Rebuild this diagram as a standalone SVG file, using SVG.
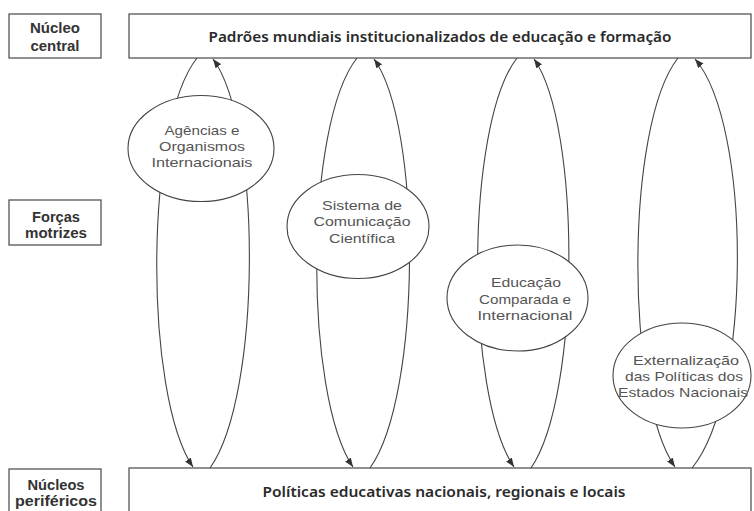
<svg xmlns="http://www.w3.org/2000/svg" width="754" height="511" viewBox="0 0 754 511">
<style>
.box{fill:#fff;stroke:#555;stroke-width:1.3}
.lbl{font-family:"Liberation Sans",Arial,sans-serif;font-weight:bold;font-size:14px;fill:#333;text-anchor:middle}
.ttl{font-family:"Noto Sans","Liberation Sans",sans-serif;font-weight:600;font-size:15px;fill:#2a2a2a;text-anchor:middle}
.ell{fill:#fff;stroke:#444;stroke-width:1.1}
.et{font-family:"Liberation Sans",Arial,sans-serif;font-size:13px;fill:#555;text-anchor:middle}
.ln{fill:none;stroke:#444;stroke-width:1.1}
</style>
<defs>
<marker id="ah" markerUnits="userSpaceOnUse" markerWidth="9" markerHeight="7" refX="9" refY="3.5" orient="auto">
<path d="M0,0 L9,3.5 L0,7 z" fill="#333"/>
</marker>
</defs>
<rect width="754" height="511" fill="#fff"/>

<g id="label-nucleo-central">
<rect class="box" x="9" y="14" width="92" height="44"/>
<text class="lbl" x="55" y="33" textLength="50" lengthAdjust="spacingAndGlyphs">Núcleo</text>
<text class="lbl" x="55" y="51" textLength="49" lengthAdjust="spacingAndGlyphs">central</text>
</g>
<g id="node-padroes">
<rect class="box" x="129" y="14" width="622" height="44"/>
<text class="ttl" x="440" y="42" textLength="463" lengthAdjust="spacingAndGlyphs">Padrões mundiais institucionalizados de educação e formação</text>
</g>
<g id="label-forcas-motrizes">
<rect class="box" x="9" y="200" width="92" height="45"/>
<text class="lbl" x="56" y="222" textLength="48" lengthAdjust="spacingAndGlyphs">Forças</text>
<text class="lbl" x="56" y="238" textLength="62" lengthAdjust="spacingAndGlyphs">motrizes</text>
</g>
<g id="label-nucleos-perifericos">
<rect class="box" x="9" y="469" width="92" height="50"/>
<text class="lbl" x="56" y="490" textLength="57" lengthAdjust="spacingAndGlyphs">Núcleos</text>
<text class="lbl" x="56" y="506" textLength="82" lengthAdjust="spacingAndGlyphs">periféricos</text>
</g>
<g id="node-politicas">
<rect class="box" x="129" y="468" width="622" height="50"/>
<text class="ttl" x="444" y="497" textLength="363" lengthAdjust="spacingAndGlyphs">Políticas educativas nacionais, regionais e locais</text>
</g>

<g id="connectors">
<path class="ln" d="M197,58 C144,125 144,395 193,467" marker-end="url(#ah)"/>
<path class="ln" d="M210,468 C262,395 262,125 213,59" marker-end="url(#ah)"/>
<path class="ln" d="M357,58 C304,125 304,395 353,467" marker-end="url(#ah)"/>
<path class="ln" d="M370,468 C422,395 422,125 374,59" marker-end="url(#ah)"/>
<path class="ln" d="M517,58 C465,125 465,395 514,467" marker-end="url(#ah)"/>
<path class="ln" d="M531,468 C581,395 581,125 534,59" marker-end="url(#ah)"/>
<path class="ln" d="M678,58 C625,125 625,395 675,467" marker-end="url(#ah)"/>
<path class="ln" d="M692,468 C752,395 752,125 695,59" marker-end="url(#ah)"/>
</g>

<g id="node-agencias">
<ellipse class="ell" cx="201" cy="148.5" rx="73" ry="53"/>
<text class="et" x="202" y="135" textLength="75" lengthAdjust="spacingAndGlyphs">Agências e</text>
<text class="et" x="202" y="151" textLength="86" lengthAdjust="spacingAndGlyphs">Organismos</text>
<text class="et" x="202" y="167" textLength="101" lengthAdjust="spacingAndGlyphs">Internacionais</text>
</g>
<g id="node-sistema">
<ellipse class="ell" cx="358" cy="226.5" rx="71" ry="52"/>
<text class="et" x="362" y="210" textLength="80" lengthAdjust="spacingAndGlyphs">Sistema de</text>
<text class="et" x="362" y="226" textLength="97" lengthAdjust="spacingAndGlyphs">Comunicação</text>
<text class="et" x="362" y="243" textLength="66" lengthAdjust="spacingAndGlyphs">Científica</text>
</g>
<g id="node-educacao">
<ellipse class="ell" cx="517.5" cy="298" rx="70.5" ry="53"/>
<text class="et" x="526" y="287" textLength="70" lengthAdjust="spacingAndGlyphs">Educação</text>
<text class="et" x="525" y="304" textLength="92" lengthAdjust="spacingAndGlyphs">Comparada e</text>
<text class="et" x="525" y="320" textLength="95" lengthAdjust="spacingAndGlyphs">Internacional</text>
</g>
<g id="node-externalizacao">
<ellipse class="ell" cx="682" cy="375.5" rx="69" ry="52.5"/>
<text class="et" x="686" y="365" textLength="106" lengthAdjust="spacingAndGlyphs">Externalização</text>
<text class="et" x="684" y="381" textLength="118" lengthAdjust="spacingAndGlyphs">das Políticas dos</text>
<text class="et" x="683" y="397" textLength="130" lengthAdjust="spacingAndGlyphs">Estados Nacionais</text>
</g>
</svg>
